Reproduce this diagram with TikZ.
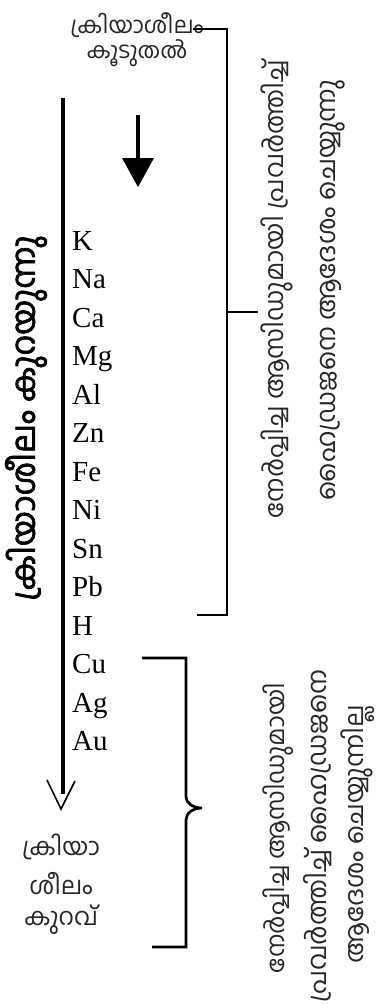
\documentclass[tikz,border=0pt]{standalone}
\usepackage{fontspec}
\setmainfont{Liberation Serif}
\newfontfamily\mal[Script=Malayalam]{Hind Kochi}
\newfontfamily\malb[Script=Malayalam,FakeBold=2]{Hind Kochi}
\newsavebox\mymeasbox
\begin{document}
\sbox\mymeasbox{\mal\fontsize{10}{10}\selectfont ക്രിയാ}%
\pgfmathsetmacro\bsz{10*78/\wd\mymeasbox}%
\begin{tikzpicture}[x=1pt,y=1pt,
  elem/.style={anchor=base west, inner sep=0pt, font=\fontsize{29}{29}\selectfont},
  mtext/.style={inner sep=0pt, text=black!85},
  heavy/.style={line width=3.6pt},
  brk/.style={line width=2.7pt, line cap=butt},
]
\useasboundingbox (0,0) rectangle (383,-1004);
% elements
\foreach \e [count=\i from 0] in {K,Na,Ca,Mg,Al,Zn,Fe,Ni,Sn,Pb,H,Cu,Ag,Au}
  \node[elem] (e\i) at (72,{-250-38.5*\i}) {\e};
% top label
\node[mtext] (top1) at (137,-25) {\resizebox{133pt}{!}{\mal ക്രിയാശീലം}};
\node[mtext] (top2) at (137,-53) {\resizebox{101pt}{!}{\mal കൂടുതൽ}};
% left vertical label
\node[mtext, rotate=90, text=black] (lbl) at (26,-418) {\resizebox{365pt}{!}{\malb ക്രിയാശീലം കുറയുന്നു}};
% bottom left label
\node[mtext, font=\mal\fontsize{\bsz}{\bsz}\selectfont] (b1) at (61,-847) {ക്രിയാ};
\node[mtext, font=\mal\fontsize{\bsz}{\bsz}\selectfont] (b2) at (61,-884) {ശീലം};
\node[mtext, font=\mal\fontsize{\bsz}{\bsz}\selectfont] (b3) at (61,-920) {കുറവ്};
% right texts
\node[mtext, rotate=90] (r1) at (277,-289) {\resizebox{458pt}{!}{\mal നേർപ്പിച്ച ആസിഡുമായി പ്രവർത്തിച്ച്}};
\node[mtext, rotate=90] (r2) at (333,-290) {\resizebox{420pt}{!}{\mal ഹൈഡ്രജനെ ആദേശം ചെയ്യുന്നു}};
\node[mtext, rotate=90] (s1) at (278,-828) {\resizebox{290pt}{!}{\mal നേർപ്പിച്ച ആസിഡുമായി}};
\node[mtext, rotate=90] (s2) at (318,-836) {\resizebox{333pt}{!}{\mal പ്രവർത്തിച്ച് ഹൈഡ്രജനെ}};
\node[mtext, rotate=90] (s3) at (358,-834) {\resizebox{258pt}{!}{\mal ആദേശം ചെയ്യുന്നില്ല}};
% main arrow
\coordinate (mA) at (63,-98);
\coordinate (mE) at (63,-794);
\coordinate (mT) at (61,-809);
\coordinate (vl) at (47,-780);
\coordinate (vr) at (75,-781);
\draw[heavy] (mA) -- (mE);
\draw[line width=1.6pt] (vl) -- (mT) -- (vr);
% small arrow
\coordinate (sA) at (138,-115);
\coordinate (sB) at (138,-162);
\coordinate (tl) at (122,-158);
\coordinate (tr) at (154,-158);
\coordinate (tt) at (138,-187);
\draw[line width=3.3pt] (sA) -- (sB);
\fill (tl) -- (tr) -- (tt) -- cycle;
% top bracket
\coordinate (k1) at (193,-29);
\coordinate (k2) at (227,-29);
\coordinate (k3) at (227,-615);
\coordinate (k4) at (197,-615);
\coordinate (km) at (227,-312);
\coordinate (kt) at (258,-312);
\draw[brk] (k1) -- (k2) -- (k3) -- (k4);
\draw[brk] (km) -- (kt);
% brace
\coordinate (c1) at (142,-658);
\coordinate (c2) at (186,-658);
\coordinate (c3) at (186,-797);
\coordinate (ctip) at (202,-808);
\coordinate (c4) at (186,-820);
\coordinate (c5) at (186,-947);
\coordinate (c6) at (152,-947);
\draw[brk] (c1) -- (c2) -- (c3) .. controls (186,-803) and (193,-808) .. (ctip) .. controls (193,-808) and (186,-813) .. (c4) -- (c5) -- (c6);
\end{tikzpicture}
\end{document}
